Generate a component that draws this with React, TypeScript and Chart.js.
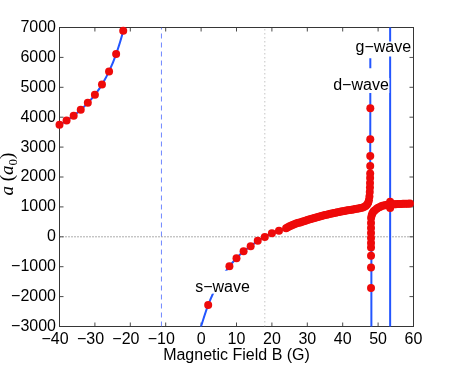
import React, { useEffect, useRef } from 'react';
import { Chart, registerables } from 'chart.js';

Chart.register(...registerables);

// ---- Data (B in gauss, a in units of a0) ----
// Measured points (red)
const redB = [
  -40, -38, -36, -34, -32, -30, -28, -26, -24, -22,
  2, 8, 10, 12, 14, 16, 18, 20, 22,
  24, 24.5, 25, 25.5, 26, 26.5, 27, 27.5, 28, 28.5, 29, 29.5, 30, 30.5, 31, 31.5,
  32, 32.5, 33, 33.5, 34, 34.5, 35, 35.5, 36, 36.5, 37, 37.5, 38, 38.5, 39, 39.5,
  40, 40.5, 41, 41.5, 42, 42.5, 43, 43.5, 44, 44.5, 45, 45.5, 46, 46.5, 46.9,
  47.2, 47.4, 47.55, 47.65, 47.7, 47.72, 47.74, 47.76, 47.77, 47.78, 47.79, 47.8,
  48.0, 48.0, 48.0, 48.0, 48.0, 48.0, 48.0, 48.0, 48.0, 48.02,
  48.2, 48.4, 48.7, 49.1, 49.6, 50, 50.5, 51, 51.5, 52, 52.5, 53, 53.4, 53.4,
  53.8, 54.2, 54.6, 55, 55.5, 56, 56.5, 57, 57.5, 58, 58.5, 59,
];
const redA = [
  3750, 3890, 4050, 4250, 4480, 4750, 5090, 5530, 6110, 6890,
  -2280, -986, -718, -484, -317, -129, -6, 118, 205,
  290, 320, 350, 375, 400, 425, 450, 466, 480, 500, 520, 540, 560, 578, 596, 614,
  632, 648, 664, 680, 695, 710, 725, 740, 754, 768, 782, 795, 808, 820, 832, 844,
  855, 866, 877, 887, 897, 907, 917, 927, 937, 948, 960, 975, 995, 1030, 1080,
  1140, 1220, 1350, 1500, 1650, 1800, 1970, 2120, 2370, 2700, 3260, 4300,
  -1711, -1023, -632, -355, -208, -41, 126, 293, 460, 627,
  720, 790, 845, 890, 940, 970, 1000, 1030, 1045, 1058, 1068, 1075, 1170, 960,
  1080, 1085, 1088, 1091, 1094, 1097, 1100, 1102, 1104, 1106, 1108, 1110,
];

// Theory curve (blue), three branches
const blueLeftB = [-40, -38, -36, -34, -32, -30, -28, -26, -24, -22, -21.5];
const blueLeftA = [3740, 3890, 4050, 4250, 4480, 4750, 5090, 5530, 6110, 6890, 7350];

const blueMainB = [
  -0.3, 2, 5, 8, 10, 12, 14, 16, 18, 20, 22, 24, 26, 28, 30, 32, 34, 36, 38, 40,
  42, 44, 45, 46, 46.5, 46.9, 47.2, 47.4, 47.55, 47.65, 47.72, 47.76, 47.8, 47.8,
];
const blueMainA = [
  -3100, -2280, -1500, -986, -718, -484, -317, -129, -6, 118, 205, 290, 400, 480, 560, 632, 695, 754, 808, 855,
  897, 937, 960, 995, 1030, 1080, 1140, 1220, 1350, 1500, 1800, 2120, 4300, 5300,
];

const blueLowB = [48.0, 48.0, 48.2, 48.4, 48.7, 49.1, 49.6, 50, 51, 52, 53, 54, 56, 58, 60];
const blueLowA = [-3100, 627, 720, 790, 845, 890, 940, 970, 1030, 1058, 1075, 1085, 1097, 1104, 1090];

// Narrow g-wave resonance and the short dash of the d-wave pole above its label
const gWaveB = [53.4, 53.4];
const gWaveA = [-3100, 7100];
const dDashB = [47.8, 47.8];
const dDashA = [5640, 5970];

// Reference lines
const zeroLineB = [-40, 60];
const zeroLineA = [0, 0];
const crossB = [18, 18];
const crossA = [-3000, 7000];
const poleB = [-11.2, -11.2];
const poleA = [-3000, 7000];

// Resonance labels (anchor in data units: centre x, text baseline)
const labelText = ['s\u2212wave', 'd\u2212wave', 'g\u2212wave'];
const labelB = [6.05, 45.17, 51.47];
const labelA = [-1835, 4910, 6197];

// ---- styling ----
const SANS = "'Liberation Sans', Arial, Helvetica, sans-serif";
const SERIF = "'Liberation Serif', 'Times New Roman', serif";
const labelBox = [
  { up: 21, down: 2, padX: 1.5 },
  { up: 12, down: 3, padX: 0.5 },
  { up: 10, down: 5, padX: 1.5 },
];
const BLUE = '#2356ff';
const RED = '#ee0a0a';

const pts = (bs: number[], as: number[]) => bs.map((b, i) => ({ x: b, y: as[i] }));

const fmt = (v: number, pad: boolean) =>
  v < 0 ? '\u2212' + Math.abs(v) + (pad ? '  ' : '') : String(v);

export default function App() {
  const ref = useRef<HTMLCanvasElement>(null);

  useEffect(() => {
    const canvas = ref.current;
    if (!canvas) return;

    const framePlugin = {
      id: 'frame',
      beforeDatasetsDraw(chart: any) {
        const { ctx, chartArea: ca, scales } = chart;
        const xs = scales.x;
        const ys = scales.y;
        ctx.save();
        ctx.strokeStyle = '#4a4a4a';
        ctx.lineWidth = 1;
        ctx.beginPath();
        const tl = 4;
        xs.ticks.forEach((t: any) => {
          const px = xs.getPixelForValue(t.value);
          ctx.moveTo(px, ca.bottom);
          ctx.lineTo(px, ca.bottom - tl);
          ctx.moveTo(px, ca.top);
          ctx.lineTo(px, ca.top + tl);
        });
        ys.ticks.forEach((t: any) => {
          const py = ys.getPixelForValue(t.value);
          ctx.moveTo(ca.left, py);
          ctx.lineTo(ca.left + tl, py);
          ctx.moveTo(ca.right, py);
          ctx.lineTo(ca.right - tl, py);
        });
        ctx.stroke();
        ctx.strokeStyle = '#363636';
        ctx.strokeRect(ca.left, ca.top, ca.right - ca.left, ca.bottom - ca.top);
        ctx.restore();
      },
      afterDraw(chart: any) {
        const { ctx, chartArea: ca } = chart;
        ctx.save();
        ctx.fillStyle = '#000';
        ctx.font = '16px ' + SANS;
        ctx.textAlign = 'center';
        ctx.textBaseline = 'alphabetic';
        ctx.fillText('Magnetic Field B (G)', (ca.left + ca.right) / 2, ca.bottom + 33);

        // y title: a (a_0)
        const parts = [
          { t: 'a', f: 'italic 19px ' + SERIF, dy: 0 },
          { t: ' (', f: '19px ' + SERIF, dy: 0 },
          { t: 'a', f: 'italic 19px ' + SERIF, dy: 0 },
          { t: '0', f: '13px ' + SERIF, dy: 4 },
          { t: ')', f: '19px ' + SERIF, dy: 0 },
        ];
        let total = 0;
        const widths = parts.map((p) => {
          ctx.font = p.f;
          const w = ctx.measureText(p.t).width;
          total += w;
          return w;
        });
        ctx.translate(12.5, (ca.top + ca.bottom) / 2 - 3);
        ctx.rotate(-Math.PI / 2);
        ctx.textAlign = 'left';
        let cx = -total / 2;
        parts.forEach((p, i) => {
          ctx.font = p.f;
          ctx.fillText(p.t, cx, p.dy);
          cx += widths[i];
        });
        ctx.restore();
      },
    };

    const labelPlugin = {
      id: 'waveLabels',
      afterDatasetsDraw(chart: any) {
        const { ctx, scales } = chart;
        ctx.save();
        ctx.font = '16px ' + SANS;
        ctx.textAlign = 'center';
        ctx.textBaseline = 'alphabetic';
        labelText.forEach((txt, i) => {
          const px = scales.x.getPixelForValue(labelB[i]);
          const py = scales.y.getPixelForValue(labelA[i]);
          const w = ctx.measureText(txt).width;
          const bx = labelBox[i];
          ctx.fillStyle = '#fff';
          ctx.fillRect(px - w / 2 - bx.padX, py - bx.up, w + 2 * bx.padX, bx.up + bx.down);
          ctx.fillStyle = '#000';
          ctx.fillText(txt, px, py);
        });
        ctx.restore();
      },
    };

    const lineDs = (data: any, color: string, width: number, dash: number[], order: number, tension = 0) => ({
      data,
      showLine: true,
      borderColor: color,
      borderWidth: width,
      borderDash: dash,
      pointRadius: 0,
      pointHoverRadius: 0,
      tension,
      order,
      fill: false,
    });

    const chart = new Chart(canvas, {
      type: 'scatter',
      data: {
        datasets: [
          lineDs(pts(zeroLineB, zeroLineA), '#5a5a5a', 1, [1, 2], 6),
          lineDs(pts(crossB, crossA), '#c4c4c4', 1, [1.5, 2.5], 6),
          lineDs(pts(poleB, poleA), '#6f86ff', 1, [5, 4], 6),
          lineDs(pts(blueLeftB, blueLeftA), BLUE, 2, [], 3, 0.3),
          lineDs(pts(blueMainB, blueMainA), BLUE, 2, [], 3, 0.2),
          lineDs(pts(blueLowB, blueLowA), BLUE, 2, [], 3, 0),
          lineDs(pts(gWaveB, gWaveA), BLUE, 2, [], 3),
          lineDs(pts(dDashB, dDashA), BLUE, 2, [], 3),
          {
            data: pts(redB, redA),
            showLine: false,
            pointRadius: 4,
            pointHoverRadius: 4,
            pointBackgroundColor: RED,
            pointBorderColor: RED,
            pointBorderWidth: 0,
            order: 1,
            clip: false,
          } as any,
        ],
      },
      options: {
        animation: false,
        responsive: false,
        events: [],
        plugins: { legend: { display: false }, tooltip: { enabled: false } },
        layout: { padding: { left: 0, top: 27.5, right: 43.5, bottom: 0 } },
        scales: {
          x: {
            type: 'linear',
            min: -40,
            max: 60,
            ticks: {
              stepSize: 10,
              padding: 3,
              color: '#000',
              font: { family: SANS, size: 16 },
              autoSkip: false,
              maxRotation: 0,
              callback: (v: any) => fmt(Number(v), true),
            },
            grid: { display: false, drawTicks: false },
            border: { display: false },
            afterFit: (s: any) => {
              s.height = 41.5;
            },
          },
          y: {
            type: 'linear',
            min: -3000,
            max: 7000,
            ticks: {
              stepSize: 1000,
              padding: 3.5,
              color: '#000',
              font: { family: SANS, size: 16 },
              autoSkip: false,
              callback: (v: any) => fmt(Number(v), false),
            },
            grid: { display: false, drawTicks: false },
            border: { display: false },
            afterFit: (s: any) => {
              s.width = 59.5;
            },
          },
        },
      } as any,
      plugins: [framePlugin, labelPlugin],
    });

    return () => chart.destroy();
  }, []);

  return (
    <div style={{ position: 'fixed', left: 0, top: 0, width: 457, height: 368, background: '#fff' }}>
      <canvas ref={ref} width={457} height={368} style={{ display: 'block', width: 457, height: 368 }} />
    </div>
  );
}
